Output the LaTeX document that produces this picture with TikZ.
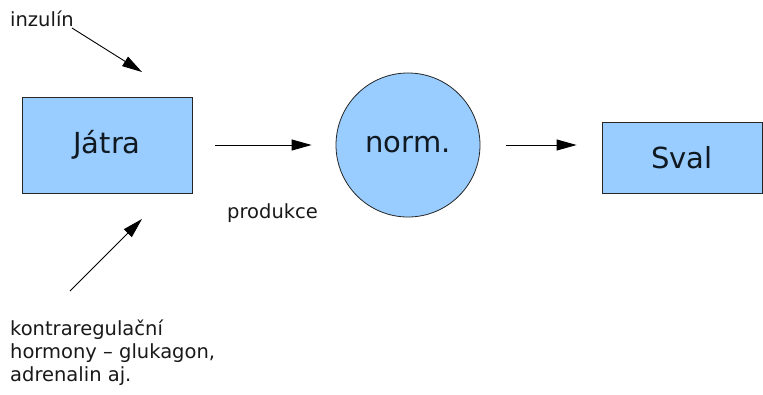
\documentclass[tikz,border=0pt]{standalone}
\usepackage{fontspec}
\setmainfont{DejaVu Sans}
\usetikzlibrary{arrows.meta}
\definecolor{boxblue}{HTML}{99CCFF}
\definecolor{txt}{HTML}{101820}
\tikzset{
  organ/.style={draw=black!85, line width=0.8pt, fill=boxblue, text=txt,
    font=\fontsize{29}{34}\selectfont, inner sep=0pt},
  lbl/.style={text=black!90, font=\fontsize{19.5}{23}\selectfont, inner sep=0pt},
  arr/.style={draw=black, line width=0.9pt, -{Triangle[length=20pt,width=11pt]}}
}
\begin{document}
\begin{tikzpicture}[x=1pt,y=-1pt]
\useasboundingbox[fill=white] (0,0) rectangle (763,394);
\node[organ, rectangle, minimum width=170pt, minimum height=96pt] (jatra) at (107,145) {Játra};
\node[organ, circle, minimum size=144pt] (norm) at (408,145) {norm.};
\node[organ, rectangle, minimum width=160pt, minimum height=71pt] (sval) at (682,158) {Sval};
\node[lbl, anchor=base west] (inz) at (10,26) {inzulín};
\node[lbl, anchor=base west] (prod) at (227,218) {produkce};
\node[lbl, anchor=north west, align=left] (kontra) at (10,320) {kontraregulační\\hormony – glukagon,\\adrenalin aj.};
\coordinate (i0) at (72,28);
\coordinate (i1) at (142,72);
\coordinate (k0) at (70,291);
\coordinate (k1) at (142,219);
\draw[arr] (i0) -- (i1);
\draw[arr] (k0) -- (k1);
\draw[arr, shorten <=23pt, shorten >=24pt] (jatra.east) -- (norm.west);
\draw[arr, shorten <=26pt, shorten >=25pt] (norm.east) -- (norm.east -| sval.west);
\end{tikzpicture}
\end{document}
